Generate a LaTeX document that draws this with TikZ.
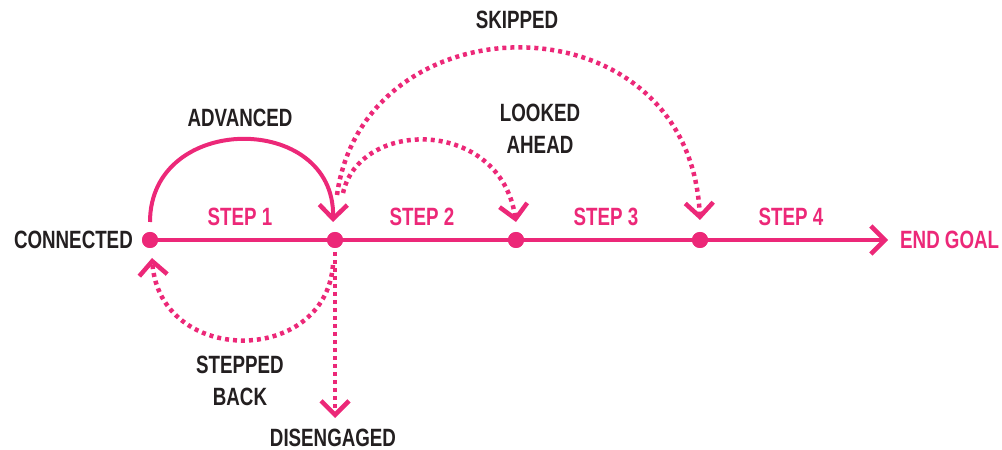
\documentclass[tikz,border=0pt]{standalone}
\usepackage{fontspec}
\setmainfont{Liberation Sans}[FakeStretch=0.75]
\usetikzlibrary{arrows.meta,calc}
\definecolor{pk}{RGB}{236,40,120}
\definecolor{ink}{RGB}{35,31,32}
\begin{document}
\begin{tikzpicture}[x=1pt,y=1pt,
  lbl/.style={font=\fontsize{25}{32}\selectfont\bfseries, text=ink, inner sep=0pt, align=center},
  plbl/.style={font=\fontsize{25}{32}\selectfont\bfseries, text=pk, inner sep=0pt},
  dot/.style={circle, fill=pk, inner sep=0pt, minimum size=16pt},
  vtip/.style={-{Straight Barb[length=14pt,width=28pt,line width=4.5pt]}},
  solidarc/.style={draw=pk, line width=4pt, vtip},
  dotarc/.style={draw=pk, line width=4.5pt, dash pattern=on 4pt off 4pt, vtip}]
\useasboundingbox (0,0) rectangle (1002,450);
% dots
\node[dot] (d1) at (150,210) {};
\node[dot] (d2) at (335,210) {};
\node[dot] (d3) at (516,210) {};
\node[dot] (d4) at (700,210) {};
\coordinate (goal) at (888,210);
% main line
\draw[pk, line width=4pt] (d1.center) -- (d4.center);
\draw[pk, line width=4pt, vtip] (d4.center) -- (goal);
\node[dot] at (d1) {};
\node[dot] at (d2) {};
\node[dot] at (d3) {};
\node[dot] at (d4) {};
% labels
\node[lbl, anchor=east] (conn) at (133,210) {CONNECTED};
\node[plbl, anchor=west] (end) at (900,210) {END GOAL};
\node[plbl] (s1) at (240,233) {STEP 1};
\node[plbl] (s2) at (422,233) {STEP 2};
\node[plbl] (s3) at (606,233) {STEP 3};
\node[plbl] (s4) at (791,233) {STEP 4};
\node[lbl] (adv) at (240,332) {ADVANCED};
\node[lbl] (skip) at (517,430) {SKIPPED};
\node[lbl] (look) at (540,321) {LOOKED\\AHEAD};
\node[lbl] (back) at (240,69) {STEPPED\\BACK};
\node[lbl] (dis) at (333,12) {DISENGAGED};
% advanced
\draw[solidarc] ($(d1)+(0,18)$) .. controls ($(d1)+(0,128)$) and ($(d2)+(0,128)$) .. ($(d2)+(-2,18)$);
% skipped
\draw[dotarc] ($(d2)+(2,45)$) .. controls (365,455) and (690,455) .. ($(d4)+(0,20)$);
% looked ahead
\draw[dotarc] ($(d2)+(8,47)$) .. controls (360,332) and (500,332) .. ($(d3)+(0,18)$);
% stepped back
\draw[dotarc] ($(d2)+(-2,-25)$) .. controls (325,84) and (160,84) .. ($(d1)+(2,-18)$);
% disengaged
\draw[dotarc] ($(d2)+(0,-12)$) -- ($(d2)+(0,-178)$);
\end{tikzpicture}
\end{document}
